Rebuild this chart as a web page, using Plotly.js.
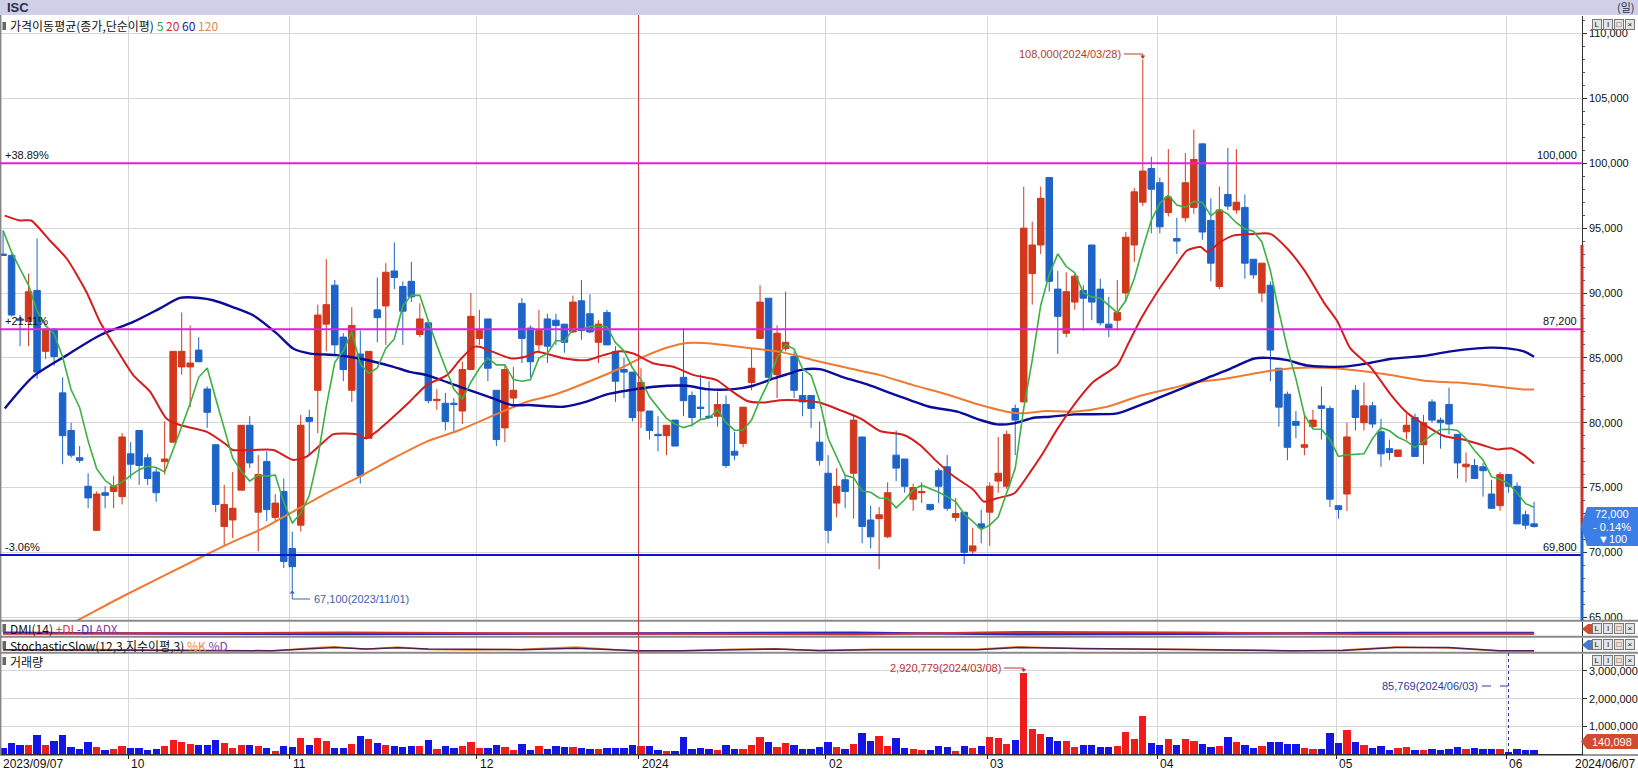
<!DOCTYPE html>
<html><head><meta charset="utf-8">
<script src="https://cdn.plot.ly/plotly-3.0.1.min.js"></script>
<style>html,body{margin:0;padding:0;background:#fff;overflow:hidden}#chart{width:1638px;height:771px}</style>
</head><body><div id="chart"></div>
<script>
// ---------------- DATA ----------------
const openP = [93000,92900,88000,87800,90200,85500,87200,82300,79400,77300,
75100,71700,74600,74700,74300,77600,79400,77300,76200,77000,
78500,84300,84300,85600,82600,78300,72000,72500,74800,79800,
73100,77000,72700,74700,70300,72100,80400,82500,87600,90600,
86600,82500,85300,78800,88700,89000,91700,90500,90900,86800,
87700,81700,81500,81500,80900,84100,86500,88000,82500,79600,
81900,89200,87300,86000,88000,87900,87600,87000,89400,88400,
86200,88500,85500,84100,83900,80900,80900,79100,79000,80200,
83500,82100,81200,80500,80500,81400,77800,78400,83100,86500,
89600,83700,85700,85100,82100,82100,78500,76100,73800,75600,
76100,78900,72500,72600,71200,77500,77200,74100,74600,73700,
76300,76600,72700,73100,70100,72200,73100,75500,75100,81100,
81600,91500,93700,98900,90300,86900,89300,90200,93700,90300,
87600,87900,90000,93700,97000,99600,98500,96200,94200,95800,
96600,101500,95600,90500,97600,96400,96600,92600,90000,90600,
84200,82200,80100,78100,79700,81300,81100,73600,74500,82500,
80000,81300,79300,78000,77400,79300,80400,78300,81600,80200,
81400,79100,76600,76700,76600,74500,73600,76000,75100,72900,
72200];
const highP = [94800,93000,88300,91500,94200,87300,87300,83500,80000,78200,
76100,74700,75100,75900,79200,78500,79400,77600,76500,80100,
85500,88500,87500,86600,82800,78300,75200,76200,79800,80500,
77500,77800,74500,75700,71600,80600,81000,89100,92600,91000,
86900,88900,87100,85500,91200,92300,93900,90900,92400,89200,
87700,82600,82300,81900,84700,90000,88700,88000,82500,84400,
84300,89600,87500,88700,88400,88400,87600,89800,91000,89900,
87900,88700,85900,85000,83900,84200,80900,80500,79800,80200,
87300,82400,83700,83200,82400,82100,79300,81200,85700,90600,
89600,87500,90100,85500,83900,82100,80100,77500,76500,76000,
80600,78900,73600,73500,75400,79400,77200,75300,75400,73700,
76500,77500,74200,73100,71900,73300,75400,78900,79400,81400,
98200,95500,98200,98900,91700,91600,91500,90600,93700,91100,
89700,91000,94700,98100,108000,100500,98900,101100,95800,100800,
102600,101500,97300,98200,101200,101100,97600,92600,92300,90900,
84200,82400,80900,80700,81000,82800,81300,73600,80000,82900,
83100,81600,80300,78700,77900,80700,80700,80600,81800,80400,
82700,79100,77700,77200,76900,75600,76200,76000,75400,73200,
73900];
const lowP = [92900,88200,85900,85900,83400,84900,84400,76800,77300,76900,
73400,71700,73400,73400,73700,75700,75200,75200,73900,76000,
78500,83700,81200,84700,79600,73100,70500,71100,74800,76500,
70100,72400,72400,68800,67100,71600,77500,79200,85500,85300,
83200,81600,75300,78800,86200,86000,90300,86000,89300,86600,
81500,81000,79400,79200,79900,84100,86000,83200,78200,78500,
81400,84600,83500,85500,84600,86000,85400,86900,86400,86900,
84600,86000,81600,81900,80100,79600,78700,77800,77500,78200,
80500,79700,80300,80300,79700,76500,77100,78100,82500,86500,
83400,81900,85500,81900,80500,79600,76700,70700,72700,73400,
72600,70700,70300,68700,71100,75500,74600,73200,73800,73200,
73800,73200,72400,69100,69800,70700,70500,74600,74900,77500,
81600,89100,93000,90100,85300,86600,88700,87100,87900,87500,
86600,87100,89300,92400,96700,94600,94600,95900,93000,95500,
96100,94100,90900,90300,96400,96100,91100,91100,89300,83200,
79700,77100,78800,77500,79500,78700,73500,72600,73200,79400,
79400,79600,76600,77100,77400,78700,77400,76800,80000,78000,
79100,75700,75400,75700,74300,73400,73200,74600,72200,71800,
71900];
const closeP = [92900,88300,87900,90100,83900,87200,85100,79000,77500,77100,
74200,74500,74400,75100,78900,76800,76700,75700,74600,77200,
85500,85500,84600,84700,80800,73700,73700,73400,79800,76900,
76000,73300,73800,69300,68900,79800,80100,88300,89100,86000,
84100,87500,75900,85500,88100,91600,91200,88600,89700,88000,
81700,81800,80100,81400,84100,88200,87100,84200,78700,84100,
82500,86500,84700,87100,85900,87500,86200,89300,87100,87000,
87600,86000,83200,83900,80400,83100,79400,79000,79800,78200,
81700,80400,81100,80400,81400,76700,77500,81200,84200,89300,
83500,86900,86200,82500,81600,81100,77100,71700,75100,74700,
80200,72000,71200,72900,74600,76500,75100,75000,74700,73300,
75100,73400,73000,70000,70500,71900,75100,76100,79100,80200,
95000,93700,97300,90900,88200,90100,91300,89600,89300,87700,
87300,88500,94300,97800,99400,98000,95100,97400,94000,98500,
100300,94700,92300,96400,96700,97000,92300,91400,92300,85600,
81200,78100,79800,78300,80200,81100,74100,73300,78900,80400,
81300,79900,77600,77700,77900,79800,77400,80000,80200,80000,
79900,76900,76800,75700,76300,73400,76000,75100,72200,72100,
72000];
const volume = [238000,417000,345000,345000,702000,345000,476000,702000,274000,202000,
452000,274000,167000,202000,310000,238000,238000,167000,202000,310000,
524000,452000,381000,345000,345000,524000,417000,238000,345000,345000,
310000,238000,119000,310000,274000,595000,345000,595000,488000,238000,
238000,381000,667000,560000,417000,345000,310000,274000,310000,310000,
524000,202000,310000,238000,310000,452000,238000,238000,345000,274000,
167000,381000,167000,310000,202000,310000,274000,274000,238000,202000,
202000,238000,238000,238000,345000,310000,310000,167000,131000,131000,
631000,202000,238000,202000,167000,345000,202000,202000,345000,631000,
452000,274000,417000,345000,202000,202000,274000,452000,274000,202000,
381000,774000,488000,667000,310000,595000,238000,202000,167000,167000,
310000,274000,131000,310000,238000,310000,631000,595000,381000,524000,
2920779,917000,738000,631000,488000,488000,274000,345000,345000,274000,
274000,310000,810000,560000,1381000,417000,345000,560000,345000,560000,
488000,381000,274000,310000,631000,452000,345000,238000,310000,452000,
452000,381000,381000,238000,202000,202000,774000,417000,881000,452000,
345000,238000,310000,167000,238000,274000,167000,167000,202000,167000,
202000,274000,202000,238000,202000,202000,202000,85769,202000,167000,
140098];

// first four 5-day MA values (prior closes are not on the chart)
const ma5Head = [94820,93150,91870,90590];
// moving averages: [candle index, value]
const ma20Pts = [[0.2,95970],[2,95590],[3.3,95590],[5.5,94050],[7.5,92640],[9.8,90080],[11.4,87770],[13.3,85720],[15.3,83670],[17.3,82380],[19.2,80330],[20.8,79820],[23.9,79310],[26.3,78280],[27,77900],[29.4,77900],[31.8,77900],[34.1,77130],[35.7,77390],[37.3,78280],[38.8,79100],[41.6,79100],[42.7,78790],[43.9,79310],[45.9,80460],[47.8,81620],[49.8,82900],[52.2,83670],[53.7,84820],[55.3,85850],[56,85850],[57.6,85460],[59.8,84950],[61.4,85080],[62.7,85460],[66,84950],[68.6,84820],[70.6,85210],[72.5,85510],[74.1,85330],[76.5,84560],[78.8,84310],[81.2,83670],[83.9,83280],[85.5,82510],[87.5,81670],[89.4,81560],[91.4,81740],[93.3,81740],[96,81560],[98.4,80970],[100.8,80330],[103.1,79360],[105.9,79050],[107.8,78280],[109.8,77000],[111.8,75850],[114.1,74820],[115.3,73920],[116.9,74180],[118.9,74560],[120.8,76230],[122,77390],[124,79560],[125.9,81360],[128.2,83150],[131,84440],[132.2,85970],[133.8,88030],[135.7,90080],[137.6,91870],[139.2,93280],[140.8,93540],[141.6,93150],[143.1,93920],[144.7,94440],[147.1,94560],[149,94560],[151,93410],[153,91740],[155.3,89260],[156.9,87790],[158.4,85730],[160.8,84260],[163.1,82210],[165.1,80740],[167.1,79850],[169.4,78970],[171.8,78680],[174.1,78240],[175.7,77940],[177.3,78030],[178.8,77500],[180,76850]];
const ma60Pts = [[0.2,81100],[3.5,83540],[7.5,85210],[11.4,86740],[15.3,87770],[18.4,88800],[20.8,89620],[23.1,89620],[24.7,89440],[27,88920],[29.4,88280],[32.2,86870],[34.1,85720],[36.1,85330],[39.2,85210],[41.9,84950],[45.9,84310],[47.8,83920],[49.8,83670],[53.7,82770],[57.6,81870],[59.8,81360],[61.8,81360],[65.9,81230],[68.6,81620],[71,82180],[73.7,82510],[76.5,82770],[80.4,82850],[82.7,82590],[85.9,82590],[88.2,82850],[90.6,83410],[92.5,83800],[93.7,84050],[96,84130],[99.2,83410],[101.6,82950],[105,82130],[108.9,81230],[112.2,80850],[114.9,80210],[116.9,79870],[118.8,79950],[121.2,80380],[123.1,80460],[125.9,80640],[131,80720],[133.7,81360],[137.6,82380],[141.6,83460],[143.9,84050],[147.1,84950],[148.6,85000],[151,84820],[153.3,84410],[157.6,84320],[160.8,84620],[163.1,84910],[167.1,85150],[170.2,85500],[173.3,85730],[174.9,85790],[176.9,85730],[178.8,85500],[180,85090]];
const ma120Pts = [[7,64200],[8.3,64600],[14.1,66620],[23.1,69570],[27.1,70850],[30.2,71740],[34.1,73150],[38,74560],[41.9,75850],[45.9,77260],[49.8,78540],[53.7,79440],[57.6,80540],[61.6,81620],[64.7,82130],[68.6,83100],[72.5,84180],[75.3,85080],[78.4,85850],[80.4,86150],[82.4,86150],[85.1,85970],[88.2,85720],[91.4,85460],[95.3,84820],[99.2,84230],[103.1,83670],[107,82900],[111,82180],[114.9,81360],[118,80850],[119.6,80720],[122.7,80900],[125.9,80850],[129.8,81230],[133.7,82080],[137.6,82690],[140,83100],[143.9,83410],[147.1,83800],[149.4,84050],[153.5,84250],[156,84210],[159.2,84030],[163.1,83680],[167.1,83240],[171,83090],[174.9,82850],[178.8,82560],[180,82560]];
// sub panels (panel percent) read roughly: [index, value]
const pdiPts = [[0,18],[20,22],[40,26],[60,22],[80,17],[100,14],[120,30],[140,26],[160,16],[180,18]];
const mdiPts = [[0,26],[20,18],[40,15],[60,18],[80,23],[100,27],[120,13],[140,16],[160,25],[180,25]];
const adxPts = [[0,21],[40,19],[80,18],[120,21],[160,19],[180,20]];
const stochDPts = [[0,19],[12,19],[24,14],[31.6,12],[36.5,27],[39,33],[42.7,23],[46.4,31],[50,23],[55,19],[61,19],[67.3,29],[74.7,12],[79.6,11],[85.7,19],[90.7,23],[96,14],[102.2,19],[114.5,19],[119.4,33],[126.8,27],[133,23],[139.1,23],[145.3,19],[151.4,12],[157.5,14],[163.7,33],[169.9,33],[176,12],[180,12]];
const stochKPts = [[0,17],[12,20],[24,12],[31.6,10],[36.5,32],[39,38],[42.7,21],[46.4,36],[50,20],[55,17],[61,21],[67.3,37],[74.7,9],[79.6,10],[85.7,22],[90.7,25],[96,12],[102.2,21],[114.5,22],[119.4,39],[126.8,25],[133,25],[139.1,21],[145.3,17],[151.4,10],[157.5,16],[163.7,36],[169.9,30],[176,10],[180,10]];

const monthTickIdx = [14.72,33.72,55.72,74.72,96.72,115.72,135.72,156.72,176.72];
const monthTickText = ['10','11','12','2024','02','03','04','05','06'];
const priceTicks = [65000,70000,75000,80000,85000,90000,95000,100000,105000,110000];
const volTicks = [1000000,2000000,3000000];
const levelLines = [{v:100000,pct:'+38.89%',lab:'100,000',c:'#e020e0'},{v:87200,pct:'+21.11%',lab:'87,200',c:'#e020e0'},{v:69800,pct:'-3.06%',lab:'69,800',c:'#1010c8'}];
const priceTag = ['72,000','- 0.14%','▼100'];

// ---------------- BUILD ----------------
const W=1638, H=771;
const px = x => x/W, py = y => 1 - y/H;
const idx = closeP.map((_,i)=>i);
const ma5 = closeP.map((c,i)=> i<4 ? ma5Head[i] : (closeP[i]+closeP[i-1]+closeP[i-2]+closeP[i-3]+closeP[i-4])/5);
const volColor = closeP.map((c,i)=> c>=openP[i] ? '#f01c1c' : '#1414e6');
const col = (pts,k)=>pts.map(p=>p[k]);

const FONT = 'Liberation Sans Narrow, Liberation Sans, Arial, sans-serif';
const KFONT = 'Noto Sans CJK KR, Liberation Sans, sans-serif';
const XR = [-0.36, 185.6];
const XD = [0, px(1581.7)];

const traces = [
  {type:'candlestick', x:idx, open:openP, high:highP, low:lowP, close:closeP, xaxis:'x', yaxis:'y',
   increasing:{line:{color:'#d2381c',width:1}, fillcolor:'#d2381c'},
   decreasing:{line:{color:'#1e64c8',width:1}, fillcolor:'#1e64c8'},
   whiskerwidth:0, hoverinfo:'skip'},
  {type:'scatter', mode:'lines', x:col(ma120Pts,0), y:col(ma120Pts,1), line:{color:'#f07a32',width:2,shape:'spline',smoothing:0.7}, xaxis:'x', yaxis:'y', hoverinfo:'skip'},
  {type:'scatter', mode:'lines', x:col(ma60Pts,0), y:col(ma60Pts,1), line:{color:'#0c0c98',width:2.4,shape:'spline',smoothing:0.7}, xaxis:'x', yaxis:'y', hoverinfo:'skip'},
  {type:'scatter', mode:'lines', x:col(ma20Pts,0), y:col(ma20Pts,1), line:{color:'#d41e1e',width:2,shape:'spline',smoothing:0.6}, xaxis:'x', yaxis:'y', hoverinfo:'skip'},
  {type:'scatter', mode:'lines', x:idx, y:ma5, line:{color:'#3cb043',width:1.6}, xaxis:'x', yaxis:'y', hoverinfo:'skip'},
  {type:'scatter', mode:'lines', x:col(adxPts,0), y:col(adxPts,1), line:{color:'#8a3ca0',width:2}, xaxis:'x2', yaxis:'y2', hoverinfo:'skip'},
  {type:'scatter', mode:'lines', x:col(mdiPts,0), y:col(mdiPts,1), line:{color:'#2828c0',width:2}, xaxis:'x2', yaxis:'y2', hoverinfo:'skip'},
  {type:'scatter', mode:'lines', x:col(pdiPts,0), y:col(pdiPts,1), line:{color:'#d03030',width:2}, xaxis:'x2', yaxis:'y2', hoverinfo:'skip'},
  {type:'scatter', mode:'lines', x:col(stochKPts,0), y:col(stochKPts,1), line:{color:'#f08a30',width:1.5}, xaxis:'x3', yaxis:'y3', hoverinfo:'skip'},
  {type:'scatter', mode:'lines', x:col(stochDPts,0), y:col(stochDPts,1), line:{color:'#502050',width:1.5}, xaxis:'x3', yaxis:'y3', hoverinfo:'skip'},
  {type:'bar', x:idx, y:volume, marker:{color:volColor, line:{width:0}}, width:0.86, xaxis:'x4', yaxis:'y4', hoverinfo:'skip'}
];

const xBase = {range:XR, domain:XD, tickvals:monthTickIdx, ticktext:monthTickText, showgrid:true, gridcolor:'#d6d6d6', gridwidth:1, zeroline:false, showline:false, ticks:'', showticklabels:false, fixedrange:true};
const layout = {
  width:W, height:H, margin:{l:0,r:0,t:0,b:0}, paper_bgcolor:'#ffffff', plot_bgcolor:'#ffffff',
  showlegend:false, hovermode:false, boxgap:0.15, boxgroupgap:0.1, bargap:0,
  font:{family:FONT, size:11, color:'#111'},
  xaxis: Object.assign({}, xBase, {anchor:'y', rangeslider:{visible:false}}),
  xaxis2: Object.assign({}, xBase, {anchor:'y2'}),
  xaxis3: Object.assign({}, xBase, {anchor:'y3'}),
  xaxis4: Object.assign({}, xBase, {anchor:'y4', ticks:'outside', ticklen:4, tickcolor:'#222', showline:true, linecolor:'#222', linewidth:1}),
  yaxis: {domain:[py(620.7), py(16)], range:[64734,111357], side:'right', anchor:'x', tickvals:priceTicks, tickformat:',d', showgrid:true, gridcolor:'#d6d6d6', zeroline:false, showline:true, linecolor:'#333', linewidth:1, ticks:'outside', ticklen:4, tickcolor:'#333', tickfont:{family:FONT,size:11,color:'#111'}, minor:{dtick:1000, tick0:0, ticks:'outside', ticklen:2, tickcolor:'#555', showgrid:false}, fixedrange:true},
  yaxis2: {domain:[py(636.5), py(621.5)], range:[0,100], side:'right', anchor:'x2', showticklabels:false, showgrid:false, zeroline:false, showline:true, linecolor:'#333', ticks:'', fixedrange:true},
  yaxis3: {domain:[py(652.5), py(637.5)], range:[0,100], side:'right', anchor:'x3', showticklabels:false, showgrid:false, zeroline:false, showline:true, linecolor:'#333', ticks:'', fixedrange:true},
  yaxis4: {domain:[py(754.3), py(653.5)], range:[0,3626000], side:'right', anchor:'x4', tickvals:volTicks, tickformat:',d', showgrid:true, gridcolor:'#d6d6d6', zeroline:false, showline:true, linecolor:'#333', ticks:'outside', ticklen:4, tickcolor:'#333', tickfont:{family:FONT,size:11,color:'#111'}, fixedrange:true},
  shapes:[], annotations:[]
};
const S = layout.shapes, A = layout.annotations;
// month labels along the bottom (left-aligned at each month grid line)
monthTickIdx.forEach((v,k)=>A.push({xref:'x4', yref:'paper', x:v, y:py(763.5), xanchor:'left', yanchor:'middle', xshift:1, text:monthTickText[k], showarrow:false, font:{family:FONT,size:12,color:'#111'}}));
// header bar
S.push({type:'rect', xref:'paper', yref:'paper', x0:0, x1:1, y0:py(15), y1:1, fillcolor:'#cfcfe8', line:{width:0}, layer:'below'});
A.push({xref:'paper', yref:'paper', x:px(5), y:py(7.5), xanchor:'left', yanchor:'middle', text:'<b>ISC</b>', showarrow:false, font:{family:FONT,size:13,color:'#2c2c48'}});
A.push({xref:'paper', yref:'paper', x:px(1637), y:py(7.5), xanchor:'right', yanchor:'middle', text:'(일)', showarrow:false, font:{family:KFONT,size:11,color:'#2c2c48'}});
// panel separators / borders
[620.7, 636.7, 652.7].forEach(y=>S.push({type:'line', xref:'paper', yref:'paper', x0:0, x1:1, y0:py(y), y1:py(y), line:{color:'#8a8a8a', width:2}}));
S.push({type:'line', xref:'paper', yref:'paper', x0:0, x1:1, y0:py(755), y1:py(755), line:{color:'#333', width:1}});
S.push({type:'line', xref:'paper', yref:'paper', x0:px(0.7), x1:px(0.7), y0:py(755), y1:py(15), line:{color:'#888', width:1.5}});
// 2024 divider
S.push({type:'line', xref:'x', yref:'paper', x0:74.72, x1:74.72, y0:py(755), y1:py(15), line:{color:'#c8302a', width:1}});
// level lines + labels
levelLines.forEach(L=>{
  S.push({type:'line', xref:'paper', yref:'y', x0:0, x1:XD[1], y0:L.v, y1:L.v, line:{color:L.c, width:2}});
  const yl = 163.3 + (100000-L.v)/77.1 - 8;
  A.push({xref:'paper', yref:'paper', x:px(3), y:py(yl), xanchor:'left', yanchor:'middle', text:L.pct, showarrow:false, font:{family:FONT,size:11,color:'#111'}});
  A.push({xref:'paper', yref:'paper', x:px(1579), y:py(yl), xanchor:'right', yanchor:'middle', text:L.lab, showarrow:false, font:{family:FONT,size:11,color:'#111'}});
});
// price axis side bars
S.push({type:'line', xref:'paper', yref:'y', x0:px(1582), x1:px(1582), y0:93700, y1:72000, line:{color:'#c8302a', width:3}});
S.push({type:'line', xref:'paper', yref:'y', x0:px(1582), x1:px(1582), y0:72000, y1:64734, line:{color:'#1e64c8', width:3}});
// current price tag
S.push({type:'path', xref:'paper', yref:'paper', path:`M ${px(1581)} ${py(526)} L ${px(1587)} ${py(507)} L ${px(1638)} ${py(507)} L ${px(1638)} ${py(546)} L ${px(1587)} ${py(546)} Z`, fillcolor:'#3a7ee6', line:{width:0}});
priceTag.forEach((t,k)=>A.push({xref:'paper', yref:'paper', x:px(1612), y:py(514+k*12.5), xanchor:'center', yanchor:'middle', text:t, showarrow:false, font:{family:FONT,size:11,color:'#ffffff'}}));
// volume tag
S.push({type:'path', xref:'paper', yref:'paper', path:`M ${px(1581)} ${py(741.5)} L ${px(1587)} ${py(734)} L ${px(1638)} ${py(734)} L ${px(1638)} ${py(749)} L ${px(1587)} ${py(749)} Z`, fillcolor:'#d24a32', line:{width:0}});
A.push({xref:'paper', yref:'paper', x:px(1612), y:py(741.5), xanchor:'center', yanchor:'middle', text:'140,098', showarrow:false, font:{family:FONT,size:11,color:'#ffffff'}});
// sub-panel value pointers
S.push({type:'path', xref:'paper', yref:'paper', path:`M ${px(1582)} ${py(629)} L ${px(1588)} ${py(624)} L ${px(1594)} ${py(624)} L ${px(1594)} ${py(634)} L ${px(1588)} ${py(634)} Z`, fillcolor:'#d24a32', line:{width:0}});
S.push({type:'path', xref:'paper', yref:'paper', path:`M ${px(1582)} ${py(645)} L ${px(1588)} ${py(640)} L ${px(1594)} ${py(640)} L ${px(1594)} ${py(650)} L ${px(1588)} ${py(650)} Z`, fillcolor:'#4a7ad0', line:{width:0}});
// panel buttons L I □ x
[24,628.5,644.5,660.5].forEach(y=>{
  ['L','I','□','×'].forEach((t,k)=>{
    A.push({xref:'paper', yref:'paper', x:px(1597+k*11), y:py(y), xanchor:'center', yanchor:'middle', text:t, showarrow:false, bgcolor:'#e4e4e4', bordercolor:'#777', borderwidth:1, borderpad:0, width:8, height:9, font:{family:FONT,size:8,color:'#111'}});
  });
});
// panel captions
const icon = y => S.push({type:'rect', xref:'paper', yref:'paper', x0:px(2.5), x1:px(6), y0:py(y+4), y1:py(y-4), fillcolor:'#666', line:{width:0}});
icon(26); icon(628); icon(645); icon(661);
A.push({xref:'paper', yref:'paper', x:px(8), y:py(26), xanchor:'left', yanchor:'middle', showarrow:false, font:{family:KFONT,size:12,color:'#111'},
  text:'가격이동평균(종가,단순이평) <span style="color:#34a034">5</span> <span style="color:#d03030">20</span> <span style="color:#1a1a9a">60</span> <span style="color:#e0894a">120</span>'});
A.push({xref:'paper', yref:'paper', x:px(8), y:py(628), xanchor:'left', yanchor:'middle', showarrow:false, font:{family:KFONT,size:12,color:'#111'},
  text:'DMI(14) <span style="color:#e03030">+DI</span> <span style="color:#3030c0">-DI</span> <span style="color:#8a3ca0">ADX</span>'});
A.push({xref:'paper', yref:'paper', x:px(8), y:py(645), xanchor:'left', yanchor:'middle', showarrow:false, font:{family:KFONT,size:12,color:'#111'},
  text:'StochasticSlow(12,3,지수이평,3) <span style="color:#f08a30">%K</span> <span style="color:#8a3ca0">%D</span>'});
A.push({xref:'paper', yref:'paper', x:px(8), y:py(661), xanchor:'left', yanchor:'middle', showarrow:false, font:{family:KFONT,size:12,color:'#111'}, text:'거래량'});
// date labels at ends
A.push({xref:'paper', yref:'paper', x:px(1), y:py(763.5), xanchor:'left', yanchor:'middle', text:'2023/09/07', showarrow:false, font:{family:FONT,size:12,color:'#111'}});
A.push({xref:'paper', yref:'paper', x:px(1637), y:py(763.5), xanchor:'right', yanchor:'middle', text:'2024/06/07', showarrow:false, font:{family:FONT,size:12,color:'#111'}});
// high / low call-outs
const hiX = 3.1 + 134*8.505, loX = 3.1 + 34*8.505, vX = 3.1 + 120*8.505, mvX = 3.1 + 177*8.505;
A.push({xref:'paper', yref:'paper', x:px(1123), y:py(54), xanchor:'right', yanchor:'middle', text:'108,000(2024/03/28)', showarrow:false, font:{family:FONT,size:11,color:'#b4402a'}});
S.push({type:'path', xref:'paper', yref:'paper', path:`M ${px(1124)} ${py(54)} L ${px(hiX)} ${py(54)} L ${px(hiX)} ${py(58)}`, line:{color:'#b4402a', width:1}});
S.push({type:'path', xref:'paper', yref:'paper', path:`M ${px(hiX-2.5)} ${py(55.5)} L ${px(hiX+2.5)} ${py(55.5)} L ${px(hiX)} ${py(59)} Z`, fillcolor:'#b4402a', line:{width:0}});
A.push({xref:'paper', yref:'paper', x:px(312), y:py(599), xanchor:'left', yanchor:'middle', text:'67,100(2023/11/01)', showarrow:false, font:{family:FONT,size:11,color:'#3a62a8'}});
S.push({type:'path', xref:'paper', yref:'paper', path:`M ${px(loX)} ${py(591)} L ${px(loX)} ${py(599)} L ${px(310)} ${py(599)}`, line:{color:'#3a62a8', width:1}});
S.push({type:'path', xref:'paper', yref:'paper', path:`M ${px(loX-2.5)} ${py(593.5)} L ${px(loX+2.5)} ${py(593.5)} L ${px(loX)} ${py(590)} Z`, fillcolor:'#3a62a8', line:{width:0}});
A.push({xref:'paper', yref:'paper', x:px(1003), y:py(668), xanchor:'right', yanchor:'middle', text:'2,920,779(2024/03/08)', showarrow:false, font:{family:FONT,size:11,color:'#c03030'}});
S.push({type:'path', xref:'paper', yref:'paper', path:`M ${px(1004)} ${py(668)} L ${px(vX)} ${py(668)} L ${px(vX)} ${py(671)}`, line:{color:'#c03030', width:1}});
S.push({type:'path', xref:'paper', yref:'paper', path:`M ${px(vX-2.5)} ${py(669)} L ${px(vX+2.5)} ${py(669)} L ${px(vX)} ${py(672)} Z`, fillcolor:'#c03030', line:{width:0}});
A.push({xref:'paper', yref:'paper', x:px(1480), y:py(686), xanchor:'right', yanchor:'middle', text:'85,769(2024/06/03)', showarrow:false, font:{family:FONT,size:11,color:'#2a3a9a'}});
S.push({type:'line', xref:'paper', yref:'paper', x0:px(1482), x1:px(mvX), y0:py(686), y1:py(686), line:{color:'#2a3a9a', width:1, dash:'dash'}});
S.push({type:'line', xref:'paper', yref:'paper', x0:px(mvX), x1:px(mvX), y0:py(653), y1:py(754), line:{color:'#2a3a9a', width:1, dash:'dot'}});

Plotly.newPlot('chart', traces, layout, {displayModeBar:false, staticPlot:true});
</script></body></html>
